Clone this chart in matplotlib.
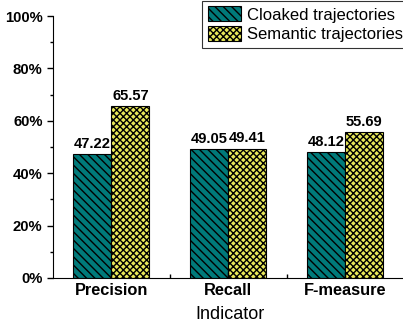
import numpy as np
import matplotlib
matplotlib.use("Agg")
import matplotlib.pyplot as plt
from matplotlib.ticker import MultipleLocator, FuncFormatter

plt.rcParams['font.family'] = ['Liberation Sans', 'DejaVu Sans']
plt.rcParams['hatch.linewidth'] = 1.0

# data
categories = ['Precision', 'Recall', 'F-measure']
cloaked = [47.22, 49.05, 48.12]
semantic = [65.57, 49.41, 55.69]
series_names = ['Cloaked trajectories', 'Semantic trajectories']

fig = plt.figure(figsize=(4.03, 3.32), dpi=100)
ax = fig.add_axes([0.1315, 0.1627, 0.878, 0.789])

x = np.arange(1, len(categories) + 1)
w = 0.325
b1 = ax.bar(x - w/2, cloaked, w, color='#007A7A', edgecolor='black', hatch='\\\\\\\\', linewidth=0.8,
            label=series_names[0])
b2 = ax.bar(x + w/2, semantic, w, color='#E8E85A', edgecolor='black', hatch='xxxxx', linewidth=0.8,
            label=series_names[1])

for bars, vals in ((b1, cloaked), (b2, semantic)):
    for r, v in zip(bars, vals):
        ax.text(r.get_x() + r.get_width()/2, v + 1.2, '%.2f' % v, ha='center', va='bottom',
                fontsize=10.6, fontweight='bold')

ax.set_xlim(0.5, 3.53)
ax.set_ylim(0, 100)
ax.set_xticks(x)
ax.set_xticklabels(categories, fontsize=11.8, fontweight='bold')
ax.set_xticks([1.5, 2.5], minor=True)
ax.yaxis.set_major_locator(MultipleLocator(20))
ax.yaxis.set_minor_locator(MultipleLocator(10))
ax.yaxis.set_major_formatter(FuncFormatter(lambda v, p: '%d%%' % v))
for lab in ax.get_yticklabels():
    lab.set_fontweight('bold')
    lab.set_fontsize(10.7)
ax.tick_params(axis='both', which='major', length=4, width=1, direction='out')
ax.tick_params(axis='both', which='minor', length=2.5, width=1, direction='out')
ax.tick_params(axis='x', which='major', direction='in', length=4)
ax.tick_params(axis='x', which='minor', direction='in', length=3)
ax.spines['top'].set_visible(False)
ax.spines['right'].set_visible(False)
ax.set_xlabel('Indicator', fontsize=13, labelpad=6)

leg = ax.legend(loc='upper right', bbox_to_anchor=(1.015, 0.998), bbox_transform=fig.transFigure,
                fontsize=12, frameon=True, fancybox=False, edgecolor='black', borderpad=0.35,
                handlelength=2.0, handleheight=1.0, handletextpad=0.36, labelspacing=0.2,
                borderaxespad=0)
leg.get_frame().set_linewidth(0.8)

fig.savefig('out.png', dpi=100)
